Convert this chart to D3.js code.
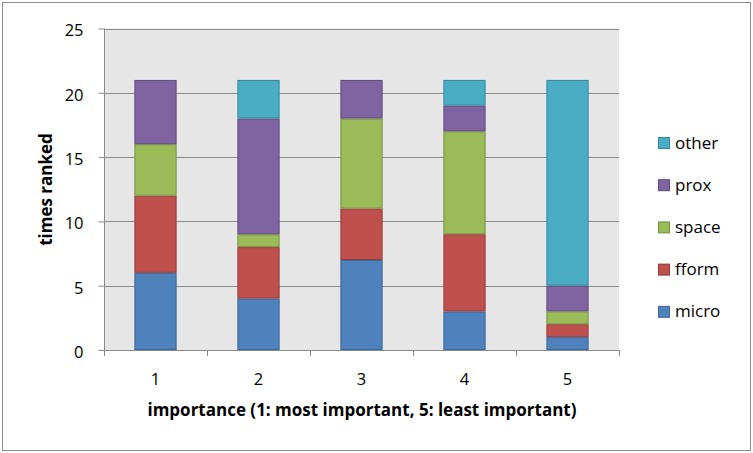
<!DOCTYPE html>
<html>
<head>
<meta charset="utf-8">
<script src="https://cdn.jsdelivr.net/npm/d3@7"></script>
<style>
body { margin: 0; background: #fff; }
</style>
</head>
<body>
<svg id="chart"></svg>
<script>
// values
const CATEGORIES = ["1", "2", "3", "4", "5"];
const SERIES = ["micro", "fform", "space", "prox", "other"];
const MICRO = [6, 4, 7, 3, 1];
const FFORM = [6, 4, 4, 6, 1];
const SPACE = [4, 1, 7, 8, 1];
const PROX  = [5, 9, 3, 2, 2];
const OTHER = [0, 3, 0, 2, 16];
const Y_TICKS = [0, 5, 10, 15, 20, 25];

const FILL = { micro: "#4f81bd", fform: "#c0504d", space: "#9bbb59", prox: "#8064a2", other: "#4bacc6" };
const LINE = { micro: "#3a6595", fform: "#943c3a", space: "#76913f", prox: "#5f4a7c", other: "#36869b" };

const WIDTH = 753;
const HEIGHT = 453;
const LEFT = 104, RIGHT = 619, TOP = 28.5, BOTTOM = 350;
const FONT = "'Open Sans', sans-serif";

let _data = CATEGORIES.map(function(c, i) {
    return { cat: c, micro: MICRO[i], fform: FFORM[i], space: SPACE[i], prox: PROX[i], other: OTHER[i] };
});

let svg = d3.select("#chart")
    .attr("width", WIDTH)
    .attr("height", HEIGHT);

// outer frame
svg.append("rect")
    .attr("x", 2.5).attr("y", 2.5)
    .attr("width", WIDTH - 5).attr("height", HEIGHT - 5)
    .style("fill", "#fff")
    .style("stroke", "#8c8c8c");

let xScale = d3.scaleBand()
    .domain(CATEGORIES)
    .range([LEFT, RIGHT])
    .paddingInner(0.59)
    .paddingOuter(0.295);

let yScale = d3.scaleLinear()
    .domain([0, 25])
    .range([BOTTOM, TOP]);

// plot background
svg.append("rect")
    .attr("x", LEFT).attr("y", TOP)
    .attr("width", RIGHT - LEFT).attr("height", BOTTOM - TOP)
    .style("fill", "#e6e6e6");

// gridlines
svg.selectAll("line.grid")
    .data(Y_TICKS.filter(function(t) { return t > 0; }))
    .enter()
    .append("line")
    .attr("class", "grid")
    .attr("x1", LEFT).attr("x2", RIGHT)
    .attr("y1", function(d) { return Math.round(yScale(d)) + 0.5; })
    .attr("y2", function(d) { return Math.round(yScale(d)) + 0.5; })
    .style("stroke", "#8a8a8a")
    .style("stroke-width", 1);

let stack = d3.stack().keys(SERIES);
let layers = stack(_data);

svg.selectAll("g.layer")
    .data(layers)
    .enter()
    .append("g")
    .attr("class", "layer")
    .each(function(layer) {
        d3.select(this).selectAll("rect")
            .data(layer.filter(function(d) { return d[1] > d[0]; }))
            .enter()
            .append("rect")
            .attr("x", function(d) { return xScale(d.data.cat) + 0.5; })
            .attr("width", xScale.bandwidth() - 1)
            .attr("y", function(d) { return yScale(d[1]) + 0.5; })
            .attr("height", function(d) { return yScale(d[0]) - yScale(d[1]) - 1; })
            .style("fill", FILL[layer.key])
            .style("stroke", LINE[layer.key])
            .style("stroke-width", 1);
    });

// y axis
let yAxis = svg.append("g")
    .attr("transform", "translate(" + (LEFT + 0.5) + ",0)")
    .call(d3.axisLeft(yScale).tickValues(Y_TICKS).tickSize(6).tickPadding(15));
yAxis.select(".domain").attr("d", "M0," + TOP + "V" + (BOTTOM + 0.5)).style("stroke", "#8a8a8a");
yAxis.selectAll(".tick line").style("stroke", "#8a8a8a");
yAxis.selectAll(".tick text")
    .attr("dy", "0.45em")
    .attr("font-family", FONT)
    .attr("font-size", "16.5px")
    .attr("fill", "#000");

// x axis
let xAxis = svg.append("g")
    .attr("transform", "translate(0," + (BOTTOM + 0.5) + ")")
    .call(d3.axisBottom(xScale).tickSize(0).tickPadding(23));
xAxis.select(".domain").attr("d", "M" + LEFT + ",0H" + RIGHT).style("stroke", "#8a8a8a");
xAxis.selectAll(".tick text")
    .attr("font-family", FONT)
    .attr("font-size", "16.5px")
    .attr("fill", "#000");

// ticks between categories on x axis
let bounds = d3.range(CATEGORIES.length + 1).map(function(i) {
    return LEFT + i * (RIGHT - LEFT) / CATEGORIES.length;
});
svg.selectAll("line.xtick")
    .data(bounds)
    .enter()
    .append("line")
    .attr("class", "xtick")
    .attr("x1", function(d) { return Math.round(d) + 0.5; })
    .attr("x2", function(d) { return Math.round(d) + 0.5; })
    .attr("y1", BOTTOM)
    .attr("y2", BOTTOM + 6)
    .style("stroke", "#8a8a8a");

// axis titles
svg.append("text")
    .text("importance (1: most important, 5: least important)")
    .attr("x", 362)
    .attr("y", 416)
    .attr("font-family", FONT)
    .attr("font-size", "17px")
    .attr("font-weight", "bold")
    .attr("text-anchor", "middle");

svg.append("text")
    .text("times ranked")
    .attr("transform", "translate(52," + 189.5 + ") rotate(-90)")
    .attr("font-family", FONT)
    .attr("font-size", "17px")
    .attr("font-weight", "bold")
    .attr("text-anchor", "middle");

// legend, top to bottom in reverse series order
let legendKeys = SERIES.slice().reverse();
let legend = svg.selectAll("g.legend")
    .data(legendKeys)
    .enter()
    .append("g")
    .attr("class", "legend")
    .attr("transform", function(d, i) { return "translate(658," + (144 + i * 42.2) + ")"; });

legend.append("rect")
    .attr("x", 0.5).attr("y", -6.5)
    .attr("width", 11).attr("height", 11)
    .style("fill", function(d) { return FILL[d]; })
    .style("stroke", function(d) { return LINE[d]; });

legend.append("text")
    .text(function(d) { return d; })
    .attr("x", 17)
    .attr("y", 0)
    .attr("font-family", FONT)
    .attr("font-size", "17px")
    .style("alignment-baseline", "middle");
</script>
</body>
</html>
